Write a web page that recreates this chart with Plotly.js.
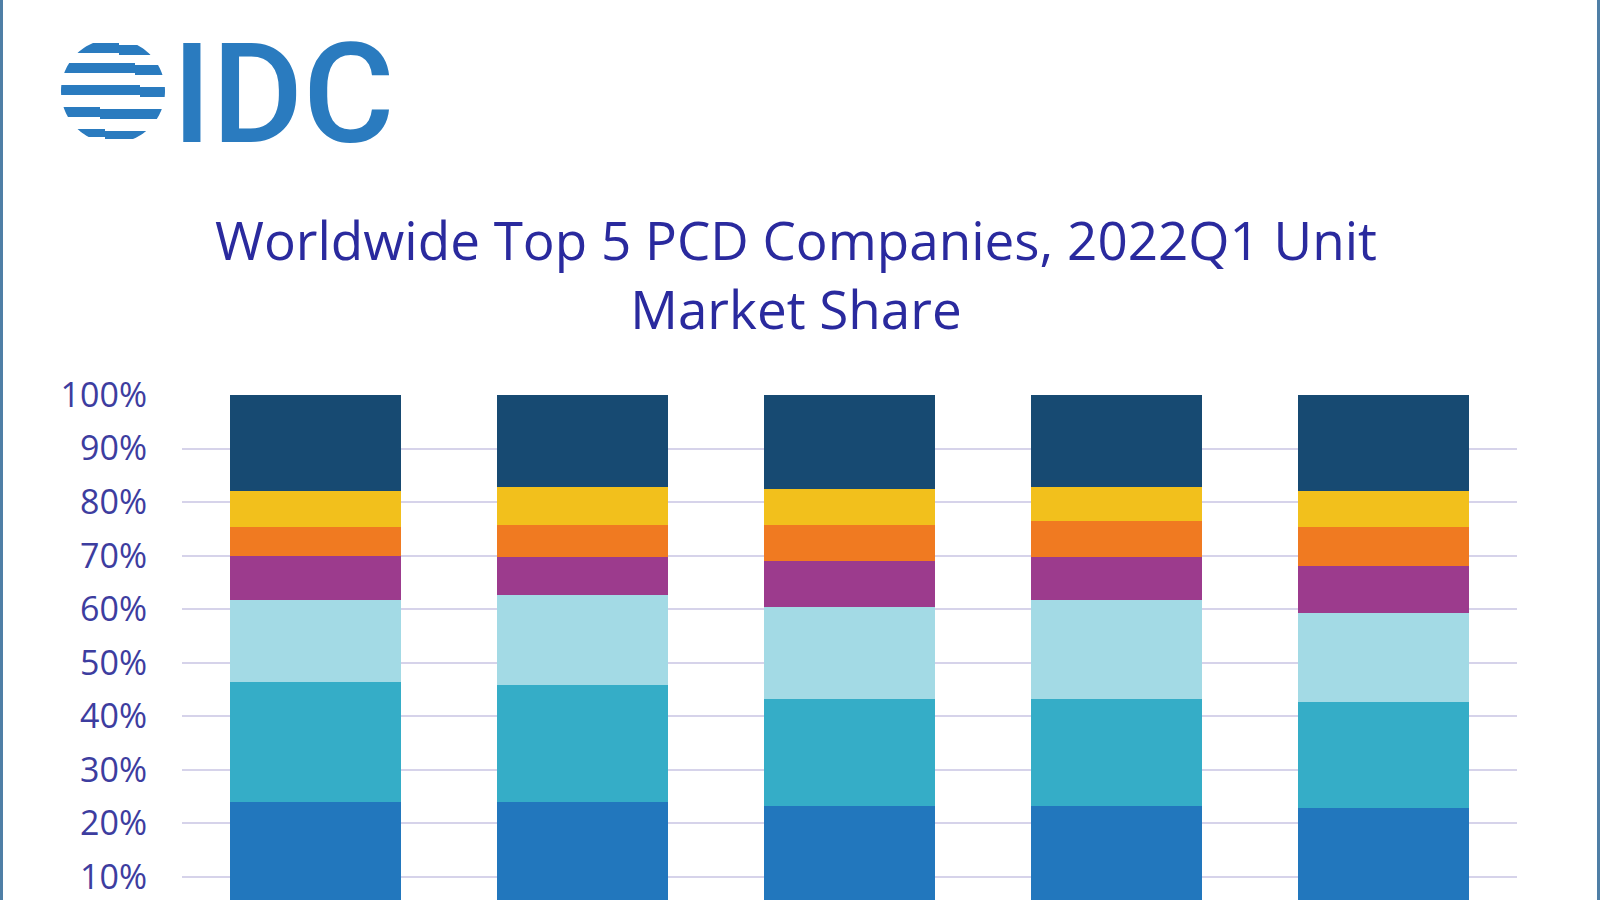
<!DOCTYPE html>
<html>
<head>
<meta charset="utf-8">
<script src="https://cdn.plot.ly/plotly-3.0.1.min.js"></script>
<style>
  html, body { margin: 0; padding: 0; background: #ffffff; }
  #chart { width: 1600px; height: 900px; }
  #frame { position: absolute; left: 0; top: 0; width: 1600px; height: 900px; box-sizing: border-box;
           border-left: 3px solid #4f7fa6; border-right: 3px solid #4f7fa6; pointer-events: none; }
</style>
</head>
<body>
<div id="chart"></div>
<div id="frame"></div>
<script>
// ---- data (percent of units), bottom segment first ----
const categories = ["Bar 1", "Bar 2", "Bar 3", "Bar 4", "Bar 5"];
const seriesNames = ["Segment 1", "Segment 2", "Segment 3", "Segment 4", "Segment 5", "Segment 6", "Segment 7"];
const seg1 = [24.0, 24.0, 23.3, 23.3, 22.9];
const seg2 = [22.4, 21.9, 20.0, 20.0, 19.8];
const seg3 = [15.4, 16.8, 17.2, 18.5, 16.6];
const seg4 = [8.1, 7.1, 8.5, 8.0, 8.7];
const seg5 = [5.4, 5.9, 6.7, 6.6, 7.3];
const seg6 = [6.8, 7.1, 6.8, 6.4, 6.8];
const seg7 = [17.9, 17.2, 17.5, 17.2, 17.9];
const yTickVals = [10, 20, 30, 40, 50, 60, 70, 80, 90, 100];
const yTickText = ["10%", "20%", "30%", "40%", "50%", "60%", "70%", "80%", "90%", "100%"];
const titleText = "Worldwide Top 5 PCD Companies, 2022Q1 Unit<br>Market Share";
const logoText = "IDC";

const colors = ["#2277bd", "#35adc7", "#a3dae5", "#9c3b8d", "#f07a21", "#f2c01c", "#174a72"];
const allSeries = [seg1, seg2, seg3, seg4, seg5, seg6, seg7];

const W = 1600, H = 900;
const px = x => x / W;
const py = y => 1 - y / H;

const traces = allSeries.map((vals, i) => ({
  type: "bar",
  name: seriesNames[i],
  x: categories,
  y: vals,
  marker: { color: colors[i], line: { width: 0 } },
  hoverinfo: "name+y"
}));

// ---- globe logo: circle-clipped stripes with a small step ----
const gcx = 113, gcy = 91, gr = 52;
const halfW = y => Math.sqrt(Math.max(0, gr * gr - (y - gcy) * (y - gcy)));
function band(yt, yb, split, off) {
  const pts = [];
  const n = 6;
  for (let k = 0; k <= n; k++) { const y = yt + (yb - yt) * k / n; pts.push([gcx - halfW(y), y]); }
  pts.push([split, yb]); pts.push([split, yb + off]);
  for (let k = 0; k <= n; k++) { const y = yb + off - (yb - yt) * k / n; pts.push([gcx + halfW(y), y]); }
  pts.push([split, yt + off]); pts.push([split, yt]);
  return pts.map((p, i) => (i ? "L" : "M") + px(p[0]).toFixed(5) + "," + py(p[1]).toFixed(5)).join(" ") + " Z";
}
const stripeSpecs = [
  [43, 53, 119, 2],
  [63, 73, 135, 2],
  [85, 95, 140, 2],
  [107, 117, 100, 2],
  [129, 137, 105, 2]
];
const logoBlue = "#2a7bbf";
const shapes = stripeSpecs.map(s => ({
  type: "path", xref: "paper", yref: "paper", path: band(s[0], s[1], s[2], s[3]),
  fillcolor: logoBlue, line: { width: 0 }, layer: "above"
}));

const annotations = [{
  text: logoText, xref: "paper", yref: "paper", x: px(283), y: py(94),
  xanchor: "center", yanchor: "middle", showarrow: false,
  font: { family: "Roboto", size: 140, weight: 500, color: logoBlue }
}];

const layout = {
  width: W, height: H,
  margin: { l: 0, r: 0, t: 0, b: 0 },
  paper_bgcolor: "#ffffff",
  plot_bgcolor: "#ffffff",
  barmode: "stack",
  bargap: 0.36,
  showlegend: false,
  title: {
    text: titleText,
    x: px(796), xanchor: "center", xref: "paper",
    y: py(260), yanchor: "top", yref: "container",
    font: { family: "Open Sans", size: 53, color: "#2a2a9e" }
  },
  xaxis: {
    domain: [px(182), px(1517)],
    showticklabels: false, showgrid: false, zeroline: false, showline: false, ticks: ""
  },
  yaxis: {
    domain: [0, (H - 395) / H],
    range: [5.71, 100],
    tickmode: "array",
    tickvals: yTickVals,
    ticktext: yTickText,
    showgrid: true, gridcolor: "#d6d3ea", gridwidth: 2,
    zeroline: false, showline: false, ticks: "",
    ticklabelstandoff: 34,
    tickfont: { family: "Open Sans", size: 34, color: "#3d3d9f" }
  },
  shapes: shapes,
  annotations: annotations
};

Plotly.newPlot("chart", traces, layout, { displayModeBar: false, staticPlot: true });
</script>
</body>
</html>
